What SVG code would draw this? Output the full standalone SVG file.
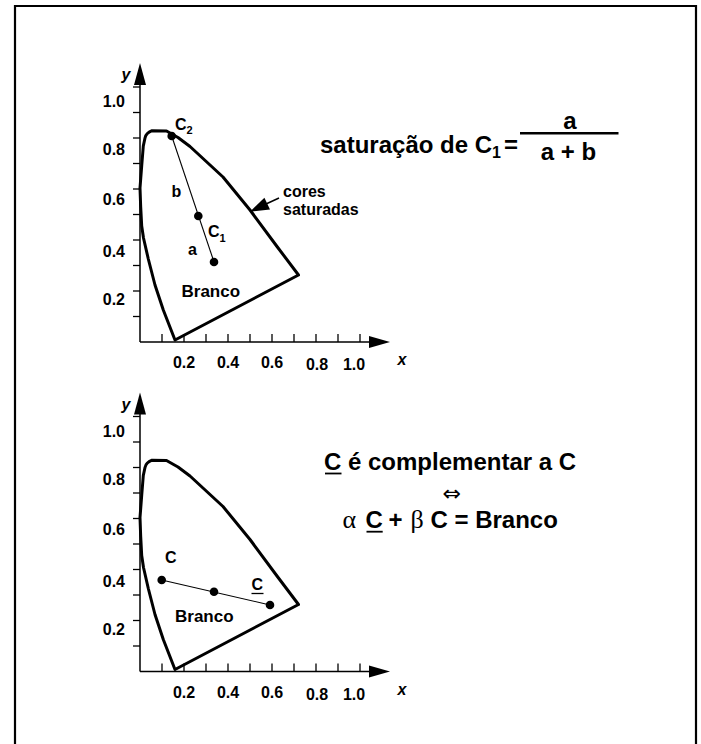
<svg xmlns="http://www.w3.org/2000/svg" width="701" height="744" viewBox="0 0 701 744">
<style>
  text { font-family: "Liberation Sans", Arial, sans-serif; font-weight: bold; fill: #000; }
  .ax { stroke: #000; stroke-width: 1.5; fill: none; }
  .tick { stroke: #000; stroke-width: 1.3; }
  .curve { stroke: #000; stroke-width: 3; fill: none; stroke-linejoin: round; }
  .conn { stroke: #000; stroke-width: 1.1; fill: none; }
  .dot { fill: #000; }
  .tl { font-size: 16px; }
  .lbl { font-size: 16px; }
  .big { font-size: 24px; }
  .sub { font-size: 11px; }
  .it { font-style: italic; font-size: 16px; }
  .gr { font-family: "Liberation Serif", "Times New Roman", serif; font-weight: normal; font-size: 26px; }
</style>
<defs>
  <g id="axes">
    <line class="ax" x1="140" y1="342" x2="370" y2="342"/>
    <polygon points="390,342 369,336 369,348" fill="#000"/>
    <line class="ax" x1="140" y1="342" x2="140" y2="84"/>
    <polygon points="140,63 134,85 146,85" fill="#000"/>
    <g class="tick">
      <line x1="162" y1="334" x2="162" y2="342"/>
      <line x1="184" y1="334" x2="184" y2="342"/>
      <line x1="206" y1="334" x2="206" y2="342"/>
      <line x1="228" y1="334" x2="228" y2="342"/>
      <line x1="250" y1="334" x2="250" y2="342"/>
      <line x1="272" y1="334" x2="272" y2="342"/>
      <line x1="294" y1="334" x2="294" y2="342"/>
      <line x1="316" y1="334" x2="316" y2="342"/>
      <line x1="338" y1="334" x2="338" y2="342"/>
      <line x1="360" y1="334" x2="360" y2="342"/>
      <line x1="133" y1="316.5" x2="140" y2="316.5"/>
      <line x1="133" y1="291" x2="140" y2="291"/>
      <line x1="133" y1="265.5" x2="140" y2="265.5"/>
      <line x1="133" y1="240" x2="140" y2="240"/>
      <line x1="133" y1="214.5" x2="140" y2="214.5"/>
      <line x1="133" y1="189" x2="140" y2="189"/>
      <line x1="133" y1="163.5" x2="140" y2="163.5"/>
      <line x1="133" y1="138" x2="140" y2="138"/>
      <line x1="133" y1="112.5" x2="140" y2="112.5"/>
      <line x1="133" y1="87" x2="140" y2="87"/>
    </g>
    <g class="tl" text-anchor="end">
      <text x="125" y="107">1.0</text>
      <text x="125" y="155">0.8</text>
      <text x="125" y="205">0.6</text>
      <text x="125" y="257">0.4</text>
      <text x="125" y="305">0.2</text>
    </g>
    <g class="tl" text-anchor="middle">
      <text x="184" y="368">0.2</text>
      <text x="228" y="368">0.4</text>
      <text x="272" y="368">0.6</text>
      <text x="317" y="370">0.8</text>
      <text x="354" y="370">1.0</text>
    </g>
    <text class="it" x="126" y="80" text-anchor="middle">y</text>
    <text class="it" x="402" y="365" text-anchor="middle">x</text>
    <path class="curve" d="M175,340 L298.5,275 L277,246.5 L250,210 L223,177 L190,146.5 L178,137.5 L166.5,131 L152,130.7 Q146,133 145,138 L143.3,146 L141.7,166 L140,188 L140.7,207 L141.7,226 L143.5,238 L148.3,259 L155,285 L163.3,310 Z"/>
  </g>
</defs>

<g id="frame">
  <path d="M15,744 V6 H696 V744" fill="none" stroke="#000" stroke-width="2.2"/>
</g>

<g id="diagram-top">
  <use href="#axes"/>
</g>

<g id="diagram-bottom">
  <use href="#axes" transform="translate(0,329.5)"/>
</g>

<g id="connectors">
  <line class="conn" x1="171.7" y1="136" x2="214" y2="262"/>
  <line class="conn" x1="161.7" y1="580" x2="270" y2="605"/>
  <line x1="279" y1="198" x2="266" y2="204" stroke="#000" stroke-width="1.5"/>
  <polygon points="250,211.7 270,209.5 264.4,197.7" fill="#000"/>
</g>

<g id="point-C2">
  <circle class="dot" cx="171.7" cy="136" r="4.3"/>
  <text class="lbl" x="175" y="130">C<tspan class="sub" dy="4">2</tspan></text>
</g>
<g id="point-C1">
  <circle class="dot" cx="198.3" cy="216" r="4.3"/>
  <text class="lbl" x="208" y="237">C<tspan class="sub" dy="5">1</tspan></text>
</g>
<g id="point-white-top">
  <circle class="dot" cx="214" cy="262" r="4.3"/>
  <text class="lbl" x="171.5" y="197">b</text>
  <text class="lbl" x="188" y="255">a</text>
  <text class="lbl" x="181.5" y="297" style="font-size:17px">Branco</text>
</g>
<g id="label-saturadas">
  <text class="lbl" x="283" y="197">cores</text>
  <text class="lbl" x="283" y="215">saturadas</text>
</g>
<g id="formula-top">
  <text class="big" x="320" y="153">saturação de C<tspan style="font-size:16px" dy="5">1</tspan></text>
  <text class="big" x="504" y="153">=</text>
  <line x1="520" y1="133.3" x2="618.5" y2="133.3" stroke="#000" stroke-width="2.6"/>
  <text class="big" x="570" y="129" text-anchor="middle">a</text>
  <text class="big" x="568.5" y="160" text-anchor="middle">a + b</text>
</g>

<g id="point-C">
  <circle class="dot" cx="161.7" cy="580" r="4.3"/>
  <text class="lbl" x="165" y="563">C</text>
</g>
<g id="point-white-bottom">
  <circle class="dot" cx="214" cy="591.7" r="4.3"/>
  <text class="lbl" x="175" y="622" style="font-size:17px">Branco</text>
</g>
<g id="point-Cbar">
  <circle class="dot" cx="270" cy="605" r="4.3"/>
  <text class="lbl" x="251.5" y="589.5">C</text>
  <line x1="251.5" y1="593.5" x2="263.5" y2="593.5" stroke="#000" stroke-width="1.3"/>
</g>

<g id="formula-bottom">
  <text class="big" x="324" y="470">C é complementar a C</text>
  <line x1="325" y1="473.5" x2="341.5" y2="473.5" stroke="#000" stroke-width="1.8"/>
  <text x="451.7" y="501" text-anchor="middle" style="font-family:'DejaVu Sans',sans-serif;font-weight:normal;font-size:22px">⇔</text>
  <text class="gr" x="342.5" y="528.3">α</text>
  <text class="big" x="365.5" y="528.3">C</text>
  <line x1="366.5" y1="531.7" x2="382.7" y2="531.7" stroke="#000" stroke-width="1.8"/>
  <text class="big" x="388.5" y="528.3">+</text>
  <text class="gr" x="410.5" y="528.3">β</text>
  <text class="big" x="430.5" y="528.3">C = Branco</text>
</g>
</svg>
